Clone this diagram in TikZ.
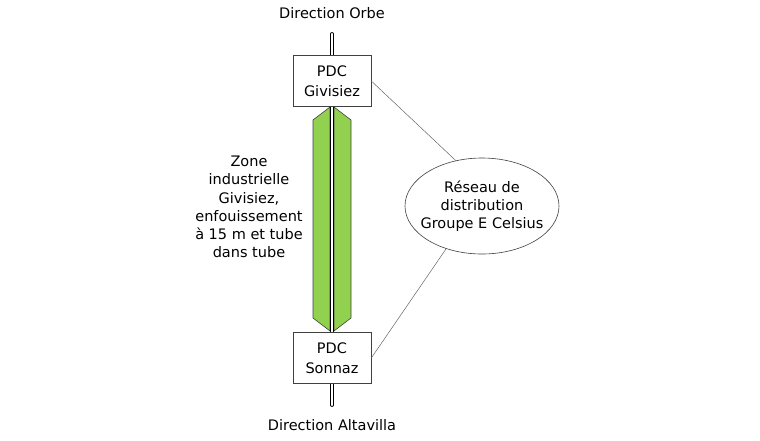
\documentclass[tikz,border=0pt]{standalone}
\usepackage{fontspec}
\setmainfont{DejaVu Sans}
\usetikzlibrary{shapes.geometric}

\definecolor{zonegreen}{HTML}{92D050}
\definecolor{edgegray}{HTML}{404040}

\tikzset{
  pdcbox/.style={draw=edgegray, fill=white, minimum width=78pt, minimum height=51pt,
    align=center, inner sep=0pt, line width=0.6pt, font=\fontsize{14.5}{20}\selectfont},
  label/.style={align=center, inner sep=0pt, font=\fontsize{14.5}{18.2}\selectfont},
  link/.style={draw=edgegray!80, line width=0.5pt}
}

\begin{document}
\begin{tikzpicture}[x=1pt, y=-1pt]
    \useasboundingbox (0,0) rectangle (760,440);
    % zone in the ground, two halves round the tube
    \draw[edgegray, fill=zonegreen, line width=0.6pt] (330,107) -- (313,120) -- (313,318) -- (330,331) -- cycle;
    \draw[edgegray, fill=zonegreen, line width=0.6pt] (334,107) -- (351,120) -- (351,318) -- (334,331) -- cycle;
    % the tube
    \coordinate (top) at (332,34);
    \coordinate (bot) at (332,405);
    \draw[black, line width=0.8pt, double=white, double distance=2.2pt, line cap=round] (top) -- (bot);
    % stations
    \node[pdcbox] (giv) at (332,81) {PDC\\Givisiez};
    \node[pdcbox] (son) at (332,358) {PDC\\Sonnaz};
    \node[label] (orbe) at (332,13) {Direction Orbe};
    \node[label] (alta) at (332,425) {Direction Altavilla};
    \node[label] (zone) at (249,207) {Zone\\industrielle\\Givisiez,\\enfouissement\\à 15 m et tube\\dans tube};
    % network
    \node[draw=edgegray, ellipse, minimum width=154pt, minimum height=96pt, inner sep=0pt,
      line width=0.6pt] (res) at (482,206) {};
    \node[label] (restext) at (res.center) {Réseau de\\distribution\\Groupe E Celsius};
    \draw[link] (giv.east) -- (res.120);
    \draw[link] (son.east) -- (res.230);
\end{tikzpicture}
\end{document}
